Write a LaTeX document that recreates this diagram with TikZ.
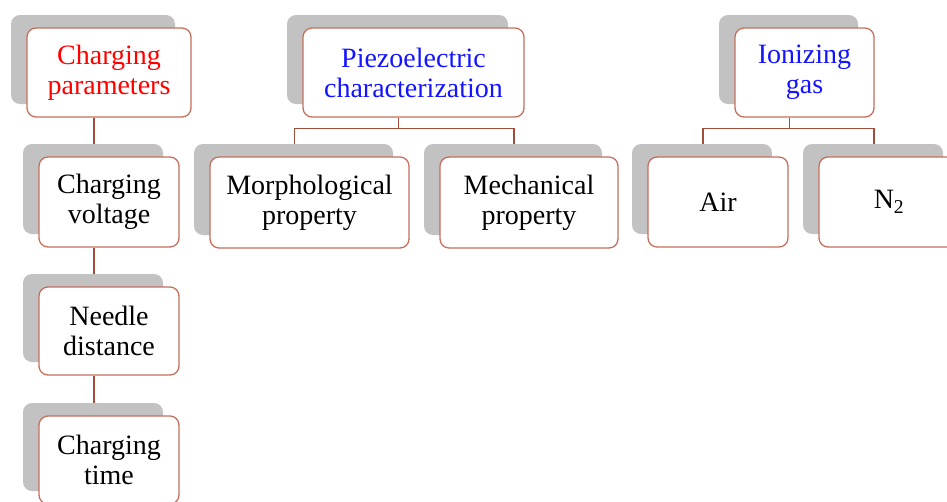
\documentclass[tikz,border=0pt]{standalone}
\usepackage{fontspec}
\setmainfont{Liberation Serif}
\usepackage{tikz}
\usetikzlibrary{shadows,backgrounds}

\definecolor{boxline}{RGB}{196,112,92}
\definecolor{linkline}{RGB}{160,78,58}
\definecolor{headblue}{RGB}{20,20,255}

\tikzset{
  box/.style={draw=boxline, line width=1.3pt, rounded corners=9pt, fill=white,
    align=center, inner sep=0pt, minimum height=89pt,
    font=\fontsize{28}{30}\selectfont,
    drop shadow={shadow xshift=-16pt, shadow yshift=13pt, fill=black!24, opacity=1}},
  link/.style={draw=linkline, line width=1.1pt}
}

\begin{document}
\begin{tikzpicture}[x=1pt, y=-1pt]
			\useasboundingbox (0,0) rectangle (947,501);
			% top row
			\node[box, minimum width=164pt, text=red] (cp) at (109,72.5) {Charging\\parameters};
			\node[box, minimum width=221pt, text=headblue] (pz) at (413.5,72.5) {Piezoelectric\\characterization};
			\node[box, minimum width=139pt, text=headblue] (ig) at (804.5,72.5) {Ionizing\\gas};
			% charging column
			\node[box, minimum width=140pt, minimum height=90pt] (cv) at (109,202) {Charging\\voltage};
			\node[box, minimum width=140pt, minimum height=88pt] (nd) at (109,331) {Needle\\distance};
			\node[box, minimum width=140pt, minimum height=88pt] (ct) at (109,460) {Charging\\time};
			% second row
			\node[box, minimum width=199pt, minimum height=91pt] (mo) at (309.5,202.5) {Morphological\\property};
			\node[box, minimum width=178pt, minimum height=91pt] (me) at (529,202.5) {Mechanical\\property};
			\node[box, minimum width=140pt, minimum height=90pt] (air) at (718,202) {Air};
			\node[box, minimum width=140pt, minimum height=90pt] (nt) at (889,202) {N\textsubscript{2}};
			\begin{scope}[on background layer]
				\path[link]
				([xshift=-15pt]cp.south) edge ([xshift=-15pt]cv.north)
				([xshift=-15pt]cv.south) edge ([xshift=-15pt]nd.north)
				([xshift=-15pt]nd.south) edge ([xshift=-15pt]ct.north);
				\draw[link] ([xshift=-15pt]pz.south) -- ++(0,11) -| ([xshift=-15pt]mo.north);
				\draw[link] ([xshift=-15pt]pz.south) -- ++(0,11) -| ([xshift=-15pt]me.north);
				\draw[link] ([xshift=-15pt]ig.south) -- ++(0,11) -| ([xshift=-15pt]air.north);
				\draw[link] ([xshift=-15pt]ig.south) -- ++(0,11) -| ([xshift=-15pt]nt.north);
			\end{scope}
		\end{tikzpicture}
\end{document}
